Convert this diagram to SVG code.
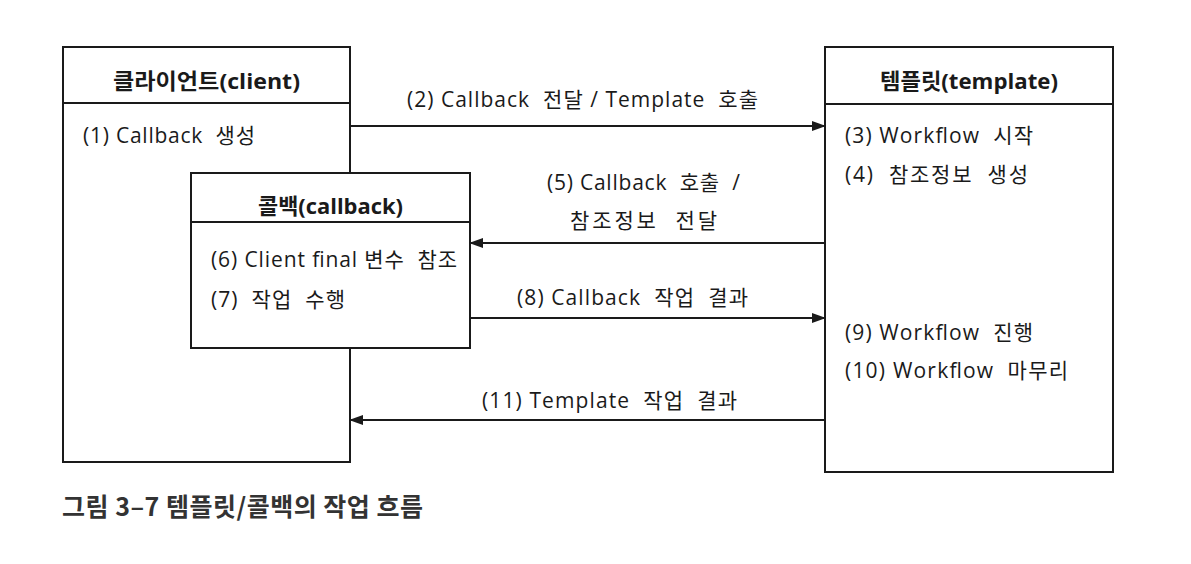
<svg xmlns="http://www.w3.org/2000/svg" width="1191" height="564" viewBox="0 0 1191 564">
<style>
  .box{fill:#fff;stroke:#1a1a1a;stroke-width:2}
  .div{stroke:#1a1a1a;stroke-width:2}
  .t{font-family:"Open Sans","Noto Sans CJK KR",sans-serif;font-size:21px;fill:#1a1a1a}
  .h{font-family:"Open Sans","Noto Sans CJK KR",sans-serif;font-size:21.5px;font-weight:bold;fill:#1a1a1a}
  .ln{stroke:#1a1a1a;stroke-width:2;fill:none}
  .cap{font-family:"Noto Sans CJK KR",sans-serif;font-size:25px;font-weight:bold;fill:#333}
</style>
<defs>
  <marker id="ah" markerWidth="14" markerHeight="10" refX="13" refY="5" orient="auto" markerUnits="userSpaceOnUse">
    <path d="M0,0 L14,5 L0,10 Z" fill="#1a1a1a"/>
  </marker>
</defs>
<rect width="1191" height="564" fill="#fff"/>
<g id="client">
  <rect class="box" x="63" y="47" width="287" height="415"/>
  <line class="div" x1="63" y1="103" x2="350" y2="103"/>
  <text class="h" x="113" y="89" textLength="187" lengthAdjust="spacingAndGlyphs">클라이언트(client)</text>
  <text class="t" x="83" y="143" textLength="172" xml:space="preserve">(1) Callback  생성</text>
</g>
<g id="template">
  <rect class="box" x="825" y="47" width="288" height="425"/>
  <line class="div" x1="825" y1="104" x2="1113" y2="104"/>
  <text class="h" x="880" y="89" textLength="178" lengthAdjust="spacingAndGlyphs">템플릿(template)</text>
  <text class="t" x="845" y="143" textLength="188" xml:space="preserve">(3) Workflow  시작</text>
  <text class="t" x="845" y="182" textLength="183" xml:space="preserve">(4)  참조정보  생성</text>
  <text class="t" x="845" y="340" textLength="188" xml:space="preserve">(9) Workflow  진행</text>
  <text class="t" x="845" y="378" textLength="223" xml:space="preserve">(10) Workflow  마무리</text>
</g>
<g id="callback">
  <rect class="box" x="191" y="173" width="279" height="175"/>
  <line class="div" x1="191" y1="222" x2="470" y2="222"/>
  <text class="h" x="258" y="214" textLength="145" lengthAdjust="spacingAndGlyphs">콜백(callback)</text>
  <text class="t" x="211" y="267" textLength="246" xml:space="preserve">(6) Client final 변수  참조</text>
  <text class="t" x="211" y="307" textLength="134" xml:space="preserve">(7)  작업  수행</text>
</g>
<g id="connectors">
  <line class="ln" x1="350" y1="126" x2="825" y2="126" marker-end="url(#ah)"/>
  <line class="ln" x1="825" y1="243" x2="470" y2="243" marker-end="url(#ah)"/>
  <line class="ln" x1="470" y1="318" x2="825" y2="318" marker-end="url(#ah)"/>
  <line class="ln" x1="825" y1="420" x2="350" y2="420" marker-end="url(#ah)"/>
  <text class="t" x="407" y="107" textLength="351" xml:space="preserve">(2) Callback  전달 / Template  호출</text>
  <text class="t" x="547" y="190" textLength="193" xml:space="preserve">(5) Callback  호출  /</text>
  <text class="t" x="570" y="228" textLength="147" xml:space="preserve">참조정보  전달</text>
  <text class="t" x="517" y="305" textLength="231" xml:space="preserve">(8) Callback  작업  결과</text>
  <text class="t" x="482" y="408" textLength="255" xml:space="preserve">(11) Template  작업  결과</text>
</g>
<text class="cap" x="62" y="516" textLength="361" xml:space="preserve">그림 3–7 템플릿/콜백의 작업 흐름</text>
</svg>
